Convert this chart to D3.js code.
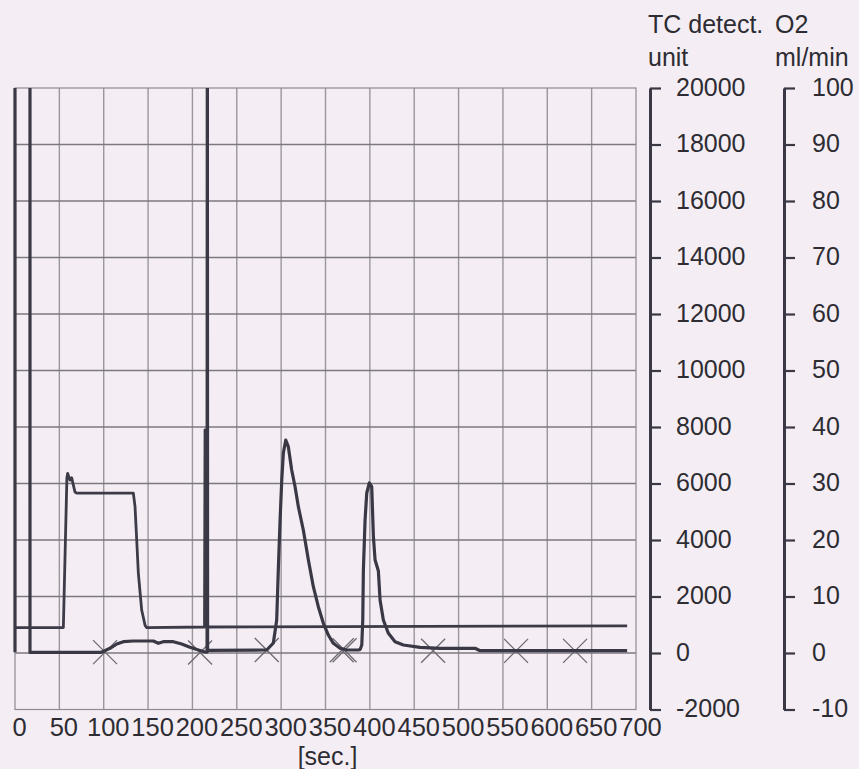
<!DOCTYPE html>
<html>
<head>
<meta charset="utf-8">
<script src="https://cdn.jsdelivr.net/npm/d3@7"></script>
<style>
  html, body { margin: 0; padding: 0; background: #f4eef4; }
  svg { display: block; font-family: "Liberation Sans", Arial, Helvetica, sans-serif; }
</style>
</head>
<body>
<svg id="chart" width="859" height="769"></svg>
<script>
// ---- data ----
const xTicks = [0, 50, 100, 150, 200, 250, 300, 350, 400, 450, 500, 550, 600, 650, 700];
const tcTicks = [-2000, 0, 2000, 4000, 6000, 8000, 10000, 12000, 14000, 16000, 18000, 20000];
const o2Ticks = [-10, 0, 10, 20, 30, 40, 50, 60, 70, 80, 90, 100];

// O2 flow (ml/min) vs time (sec)
const o2Time = [0, 54.5, 58.5, 59.4, 62.0, 63.9, 67.6, 69.6, 133.4, 135.3, 137.2, 139.0, 142.8, 146.6, 148.5, 213.6, 214.2, 214.8, 690];
const o2Flow = [4.5, 4.5, 31.0, 31.8, 30.6, 31.0, 28.5, 28.3, 28.3, 25.9, 20.0, 14.2, 7.6, 4.9, 4.5, 4.6, 39.5, 4.6, 4.8];

// TC detector signal (unit) vs time (sec); 25000 = off scale
const tcTime = [0, 0, 16.9, 16.9, 95.8, 97.7, 107.1, 114.7, 122.1, 133.4, 155.9, 161.6, 167.2, 178.5, 187.9, 197.3, 206.7, 214.2,
  216.5, 216.8, 217.1,
  283.8, 291.2, 295.0, 296.8, 298.8, 300.7, 302.5, 305.2, 308.1, 311.9, 315.7, 319.4, 325.0, 330.7, 336.3, 341.9, 347.6, 353.2, 358.8, 366.4, 374.0, 387.0,
  389.0, 390.9, 392.0, 392.7, 394.6, 396.5, 399.4, 402.1, 404.0, 405.9, 409.6, 411.5, 415.2, 420.9, 428.4, 437.8, 456.6, 479.1, 518.6, 524.2, 690];
const tcUnit = [30, 25000, 25000, 20, 20, 30, 166, 319, 400, 425, 425, 343, 400, 400, 319, 200, 106, 35,
  30, 25000, 90,
  106, 354, 1168, 2938, 4708, 6124, 7080, 7540, 7303, 6478, 5887, 5179, 4354, 3292, 2347, 1639, 1051, 637, 343, 166, 106, 106,
  124, 283, 1168, 2938, 4708, 5664, 6018, 5887, 4117, 3292, 2900, 1876, 1168, 697, 400, 283, 202, 166, 166, 81, 81];

// integration markers (x) on the baseline
const markTime = [101.5, 208.6, 283.8, 368.3, 371.5, 471.3, 564.8, 631.3];
const markUnit = [30, 20, 106, 100, 100, 80, 75, 75];

// ---- layout ----
const svg = d3.select("#chart");
const L = 15, R = 636, T = 88, B = 709.5;
const x = d3.scaleLinear().domain([0, 700]).range([L, R]);
const yTC = d3.scaleLinear().domain([-2000, 20000]).range([B, T]);
const yO2 = d3.scaleLinear().domain([-10, 100]).range([B, T]);
const fmt = d => String(d);

svg.append("defs").append("clipPath").attr("id", "plotclip")
  .append("rect").attr("x", L - 3).attr("y", T).attr("width", R - L + 3).attr("height", B - T);

// grid
const grid = svg.append("g");
grid.selectAll("line.v").data(xTicks.slice(1, -1)).enter().append("line")
  .attr("x1", d => x(d)).attr("x2", d => x(d)).attr("y1", T).attr("y2", B)
  .attr("stroke", "#9a969c").attr("stroke-width", 1.4);
grid.selectAll("line.h").data(tcTicks.slice(1, -1)).enter().append("line")
  .attr("x1", L).attr("x2", R).attr("y1", d => yTC(d)).attr("y2", d => yTC(d))
  .attr("stroke", "#7c787f").attr("stroke-width", 1.7);
grid.append("rect").attr("x", L).attr("y", T).attr("width", R - L).attr("height", B - T)
  .attr("fill", "none").attr("stroke", "#8e8a92").attr("stroke-width", 1.2);

// markers
const mk = svg.append("g");
markTime.forEach((t, i) => {
  const cx = x(t), cy = yTC(markUnit[i]), s = 12;
  mk.append("path")
    .attr("d", `M${cx - s},${cy - s}L${cx + s},${cy + s}M${cx - s},${cy + s}L${cx + s},${cy - s}`)
    .attr("stroke", "#6e6a72").attr("stroke-width", 1.3).attr("fill", "none");
});

// data lines
const plot = svg.append("g").attr("clip-path", "url(#plotclip)");
const o2Line = d3.line().x(d => x(d[0])).y(d => yO2(d[1]));
const tcLine = d3.line().x(d => x(d[0])).y(d => yTC(d[1]));
plot.append("path").datum(d3.zip(o2Time, o2Flow)).attr("d", o2Line)
  .attr("fill", "none").attr("stroke", "#3d3b47").attr("stroke-width", 2.8).attr("stroke-linejoin", "round");
plot.append("path").datum(d3.zip(tcTime, tcUnit)).attr("d", tcLine)
  .attr("fill", "none").attr("stroke", "#3a3844").attr("stroke-width", 3.2).attr("stroke-linejoin", "round");

// x axis labels
const xa = svg.append("g").attr("transform", `translate(0,${B})`)
  .call(d3.axisBottom(x).tickValues(xTicks).tickSize(0).tickPadding(8).tickFormat(fmt));
xa.select(".domain").remove();
xa.selectAll("text").attr("dx", 4).attr("font-size", 25.5).attr("fill", "#2e2c33")
  .attr("font-family", "'Liberation Sans', Arial, sans-serif");
svg.append("text").attr("x", (L + R) / 2 + 2).attr("y", 765).attr("text-anchor", "middle")
  .attr("font-size", 25).attr("fill", "#2e2c33").text("[sec.]");

// right axes
function styleAxis(g) {
  g.select(".domain").attr("stroke", "#3a3844").attr("stroke-width", 3);
  g.selectAll(".tick line").attr("stroke", "#3a3844").attr("stroke-width", 2.2);
  g.selectAll("text").attr("font-size", 25).attr("fill", "#2e2c33").attr("dy", "0.28em")
    .attr("font-family", "'Liberation Sans', Arial, sans-serif");
}
const tcAx = svg.append("g").attr("transform", "translate(650,0)")
  .call(d3.axisRight(yTC).tickValues(tcTicks).tickSize(11).tickSizeOuter(0).tickPadding(15).tickFormat(fmt));
styleAxis(tcAx);
const o2Ax = svg.append("g").attr("transform", "translate(784,0)")
  .call(d3.axisRight(yO2).tickValues(o2Ticks).tickSize(11).tickSizeOuter(0).tickPadding(17).tickFormat(fmt));
styleAxis(o2Ax);

// axis titles
const titles = [["TC detect.", 648, 33], ["unit", 648, 66], ["O2", 775, 33], ["ml/min", 775, 66]];
titles.forEach(([t, tx, ty]) => {
  svg.append("text").attr("x", tx).attr("y", ty).attr("font-size", 25).attr("fill", "#2e2c33").text(t);
});
</script>
</body>
</html>
